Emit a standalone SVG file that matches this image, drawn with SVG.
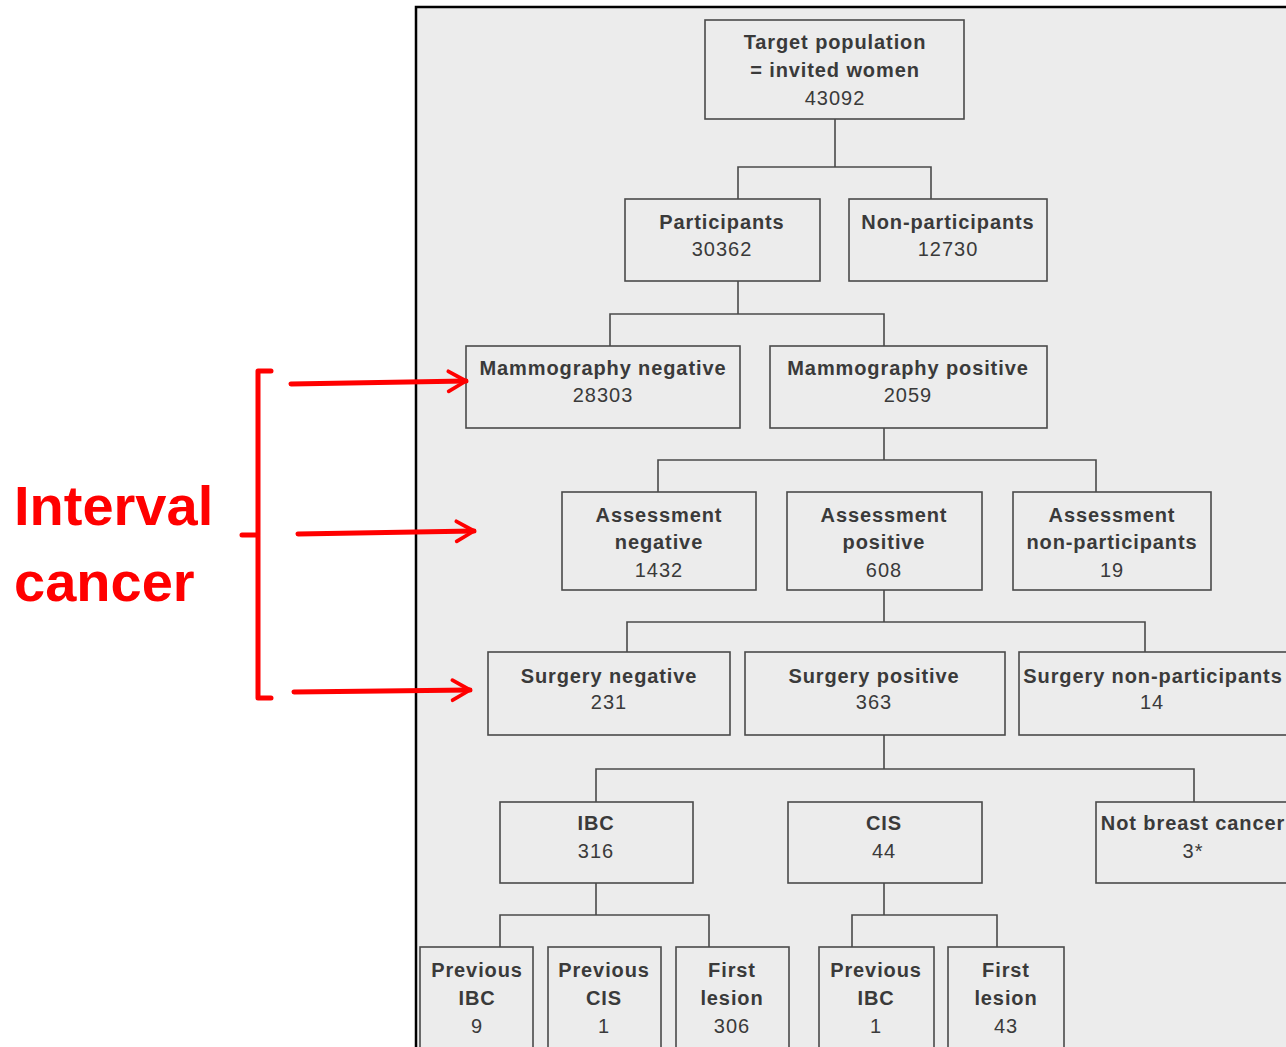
<svg xmlns="http://www.w3.org/2000/svg" width="1286" height="1047" viewBox="0 0 1286 1047">
<defs>
<style>
.box{fill:none;stroke:#4a4a4a;stroke-width:1.6}
.lbl{font-family:"Liberation Sans",Arial,sans-serif;font-size:20px;font-weight:bold;fill:#3a3a3a;text-anchor:middle;letter-spacing:0.9px}
.num{font-family:"Liberation Sans",Arial,sans-serif;font-size:20px;fill:#3a3a3a;text-anchor:middle;letter-spacing:1px}
.con{fill:none;stroke:#4a4a4a;stroke-width:1.6}
.red{fill:none;stroke:#f00;stroke-width:5;stroke-linecap:round;stroke-linejoin:round}
.ann{font-family:"Liberation Sans",Arial,sans-serif;font-size:56px;font-weight:bold;fill:#f00}
</style>
<marker id="ah" viewBox="0 0 20 20" refX="17" refY="10" markerWidth="5" markerHeight="5" markerUnits="strokeWidth" orient="auto">
<path d="M3,2 L17,10 L3,18" fill="none" stroke="#f00" stroke-width="3" stroke-linecap="round" stroke-linejoin="round"/>
</marker>
</defs>
<rect width="1286" height="1047" fill="#fff"/>
<rect x="416" y="7" width="880" height="1050" fill="#ececec" stroke="#000" stroke-width="2.5"/>

<g id="connectors">
<path class="con" d="M835,119V167M738,199V167H931V199"/>
<path class="con" d="M738,281V314M610,346V314H884V346"/>
<path class="con" d="M884,428V460M658,492V460H1096V492"/>
<path class="con" d="M884,590V622M627,652V622H1145V652"/>
<path class="con" d="M884,735V769M596,802V769H1194V802"/>
<path class="con" d="M596,883V915M500,947V915H709V947"/>
<path class="con" d="M884,883V915M852,947V915H997V947"/>
</g>

<g id="target"><rect class="box" x="705" y="20" width="259" height="99"/>
<text class="lbl" x="835" y="49">Target population</text>
<text class="lbl" x="835" y="77">= invited women</text>
<text class="num" x="835" y="105">43092</text></g>

<g id="participants"><rect class="box" x="625" y="199" width="195" height="82"/>
<text class="lbl" x="722" y="229">Participants</text>
<text class="num" x="722" y="256">30362</text></g>

<g id="nonparticipants"><rect class="box" x="849" y="199" width="198" height="82"/>
<text class="lbl" x="948" y="229">Non-participants</text>
<text class="num" x="948" y="256">12730</text></g>

<g id="mammoneg"><rect class="box" x="466" y="346" width="274" height="82"/>
<text class="lbl" x="603" y="375">Mammography negative</text>
<text class="num" x="603" y="402">28303</text></g>

<g id="mammopos"><rect class="box" x="770" y="346" width="277" height="82"/>
<text class="lbl" x="908" y="375">Mammography positive</text>
<text class="num" x="908" y="402">2059</text></g>

<g id="assessneg"><rect class="box" x="562" y="492" width="194" height="98"/>
<text class="lbl" x="659" y="522">Assessment</text>
<text class="lbl" x="659" y="549">negative</text>
<text class="num" x="659" y="577">1432</text></g>

<g id="assesspos"><rect class="box" x="787" y="492" width="195" height="98"/>
<text class="lbl" x="884" y="522">Assessment</text>
<text class="lbl" x="884" y="549">positive</text>
<text class="num" x="884" y="577">608</text></g>

<g id="assessnon"><rect class="box" x="1013" y="492" width="198" height="98"/>
<text class="lbl" x="1112" y="522">Assessment</text>
<text class="lbl" x="1112" y="549">non-participants</text>
<text class="num" x="1112" y="577">19</text></g>

<g id="surgneg"><rect class="box" x="488" y="652" width="242" height="83"/>
<text class="lbl" x="609" y="683">Surgery negative</text>
<text class="num" x="609" y="709">231</text></g>

<g id="surgpos"><rect class="box" x="745" y="652" width="260" height="83"/>
<text class="lbl" x="874" y="683">Surgery positive</text>
<text class="num" x="874" y="709">363</text></g>

<g id="surgnon"><rect class="box" x="1019" y="652" width="280" height="83"/>
<text class="lbl" x="1153" y="683">Surgery non-participants</text>
<text class="num" x="1152" y="709">14</text></g>

<g id="ibc"><rect class="box" x="500" y="802" width="193" height="81"/>
<text class="lbl" x="596" y="830">IBC</text>
<text class="num" x="596" y="858">316</text></g>

<g id="cis"><rect class="box" x="788" y="802" width="194" height="81"/>
<text class="lbl" x="884" y="830">CIS</text>
<text class="num" x="884" y="858">44</text></g>

<g id="notbc"><rect class="box" x="1096" y="802" width="200" height="81"/>
<text class="lbl" x="1193" y="830">Not breast cancer</text>
<text class="num" x="1193" y="858">3*</text></g>

<g id="previbc9"><rect class="box" x="420" y="947" width="113" height="110"/>
<text class="lbl" x="477" y="977">Previous</text>
<text class="lbl" x="477" y="1005">IBC</text>
<text class="num" x="477" y="1033">9</text></g>

<g id="prevcis1"><rect class="box" x="548" y="947" width="113" height="110"/>
<text class="lbl" x="604" y="977">Previous</text>
<text class="lbl" x="604" y="1005">CIS</text>
<text class="num" x="604" y="1033">1</text></g>

<g id="first306"><rect class="box" x="676" y="947" width="113" height="110"/>
<text class="lbl" x="732" y="977">First</text>
<text class="lbl" x="732" y="1005">lesion</text>
<text class="num" x="732" y="1033">306</text></g>

<g id="previbc1"><rect class="box" x="819" y="947" width="115" height="110"/>
<text class="lbl" x="876" y="977">Previous</text>
<text class="lbl" x="876" y="1005">IBC</text>
<text class="num" x="876" y="1033">1</text></g>

<g id="first43"><rect class="box" x="948" y="947" width="116" height="110"/>
<text class="lbl" x="1006" y="977">First</text>
<text class="lbl" x="1006" y="1005">lesion</text>
<text class="num" x="1006" y="1033">43</text></g>

<g id="annotation">
<text class="ann" x="14" y="525">Interval</text>
<text class="ann" x="14" y="601">cancer</text>
<path class="red" d="M271,371H258V698H271M258,535H242"/>
<path class="red" d="M291,384L466,381" marker-end="url(#ah)"/>
<path class="red" d="M298,534L474,531" marker-end="url(#ah)"/>
<path class="red" d="M294,692L470,690" marker-end="url(#ah)"/>
</g>
</svg>
